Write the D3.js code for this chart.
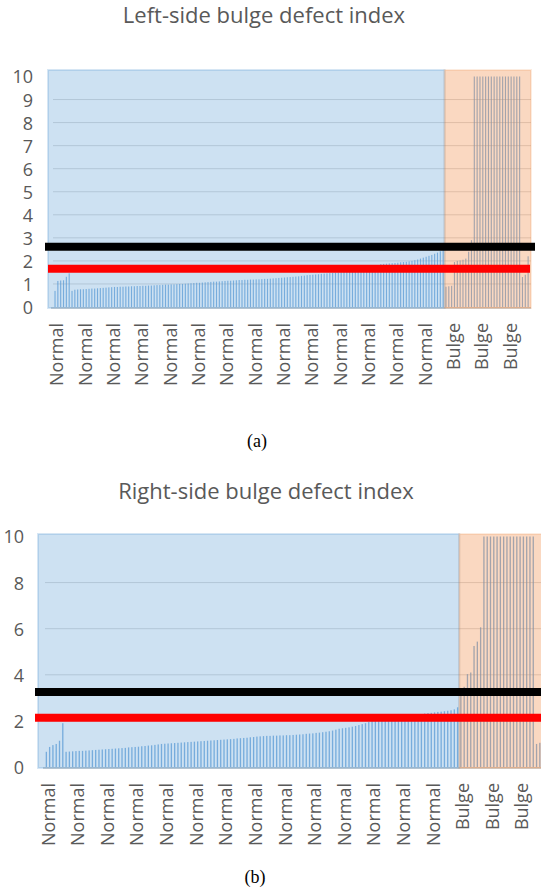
<!DOCTYPE html>
<html>
<head>
<meta charset="utf-8">
<script src="https://cdn.jsdelivr.net/npm/d3@7"></script>
<style>
  body { margin: 0; background: #fff; }
  svg { display: block; }
</style>
</head>
<body>
<div id="chart"></div>
<script>
// Values
var topTitle = "Left-side bulge defect index";
var bottomTitle = "Right-side bulge defect index";
var categoryNames = ["Normal", "Bulge"];

var topNormal = [
  0.70, 1.13, 1.15, 1.16, 1.31, 1.46, 0.70, 0.75,
  0.76, 0.77, 0.77, 0.78, 0.79, 0.80, 0.80, 0.81, 0.82, 0.83, 0.84, 0.85,
  0.86, 0.87, 0.87, 0.88, 0.88, 0.89, 0.89, 0.90, 0.90, 0.91,
  0.91, 0.92, 0.92, 0.93, 0.93, 0.94, 0.95, 0.95, 0.96, 0.97,
  0.97, 0.98, 0.98, 0.99, 1.00, 1.00, 1.01, 1.02, 1.03, 1.04,
  1.05, 1.05, 1.06, 1.07, 1.08, 1.09, 1.10, 1.10, 1.11, 1.12,
  1.13, 1.14, 1.14, 1.15, 1.16, 1.17, 1.17, 1.18, 1.18, 1.19,
  1.19, 1.20, 1.20, 1.21, 1.22, 1.22, 1.23, 1.24, 1.25, 1.26,
  1.27, 1.28, 1.29, 1.30, 1.31, 1.32, 1.33, 1.35, 1.36, 1.38,
  1.39, 1.40, 1.41, 1.42, 1.44, 1.45, 1.46, 1.47, 1.48, 1.49,
  1.50, 1.51, 1.53, 1.55, 1.57, 1.59, 1.61, 1.63, 1.65, 1.67,
  1.69, 1.71, 1.74, 1.78, 1.82, 1.86, 1.87, 1.88, 1.89, 1.90,
  1.91, 1.92, 1.94, 1.95, 1.96, 1.98, 2.00, 2.03, 2.06, 2.10,
  2.14, 2.18, 2.22, 2.26, 2.31, 2.36, 2.42, 2.47
];
var topBulge = [
  0.88, 0.90, 0.92, 1.95, 2.00, 2.02, 2.05, 2.10, 2.40, 2.90,
  10, 10, 10, 10, 10, 10, 10, 10, 10, 10, 10, 10, 10, 10, 10, 10, 10,
  1.30, 1.40, 2.20
];
var topBlackLine = 2.61;
var topRedLine = 1.66;
var topYTicks = [0, 1, 2, 3, 4, 5, 6, 7, 8, 9, 10];

var bottomNormal = [
  0.66, 0.87, 0.95, 1.00, 1.14, 1.90, 0.66,
  0.67, 0.68, 0.69, 0.70, 0.70, 0.71, 0.72, 0.73, 0.74,
  0.75, 0.76, 0.77, 0.78, 0.79, 0.80, 0.81, 0.82, 0.83, 0.85,
  0.86, 0.87, 0.88, 0.90, 0.91, 0.93, 0.94, 0.96, 0.98, 1.00,
  1.01, 1.02, 1.03, 1.04, 1.05, 1.06, 1.07, 1.08, 1.09, 1.10,
  1.11, 1.12, 1.13, 1.14, 1.15, 1.16, 1.17, 1.18, 1.19, 1.20,
  1.21, 1.22, 1.24, 1.25, 1.26, 1.27, 1.29, 1.30, 1.32, 1.33,
  1.34, 1.35, 1.35, 1.36, 1.36, 1.37, 1.37, 1.38, 1.38, 1.39,
  1.40, 1.41, 1.42, 1.44, 1.45, 1.46, 1.48, 1.49, 1.51, 1.53,
  1.55, 1.58, 1.62, 1.66, 1.68, 1.70, 1.72, 1.75, 1.78, 1.82,
  1.86, 1.90, 1.95, 2.00, 2.02, 2.04, 2.06, 2.08, 2.10, 2.12,
  2.14, 2.16, 2.18, 2.20, 2.22, 2.24, 2.26, 2.28, 2.30, 2.32,
  2.34, 2.35, 2.37, 2.39, 2.40, 2.42, 2.44, 2.46, 2.50, 2.59
];
var bottomBulge = [
  3.10, 3.48, 4.03, 4.10, 5.25, 5.44, 6.06,
  10, 10, 10, 10, 10, 10, 10, 10, 10, 10, 10, 10, 10, 10, 10, 10,
  1.00, 1.05
];
var bottomBlackLine = 3.25;
var bottomRedLine = 2.14;
var bottomYTicks = [0, 2, 4, 6, 8, 10];

var W = 541, H = 892;
var textColor = "#595959";
var blue = "#5b9bd5", orange = "#ed7d31";

var svg = d3.select("#chart").append("svg")
    .attr("width", W)
    .attr("height", H);

function drawChart(cfg) {
    var g = svg.append("g");
    var values = cfg.normal.concat(cfg.bulge);
    var cats = values.map(function(d, i) { return i < cfg.normal.length ? categoryNames[0] : categoryNames[1]; });

    var x = d3.scaleBand()
        .domain(d3.range(values.length))
        .range([cfg.x0, cfg.x0 + values.length * cfg.band])
        .padding(0);

    var y = d3.scaleLinear()
        .domain([0, 10])
        .range([cfg.y0, cfg.y10]);

    // gridlines
    g.selectAll(".grid")
        .data(cfg.yTicks.filter(function(d) { return d > 0 && d < 10; }))
        .enter().append("line")
        .attr("x1", cfg.gridLeft)
        .attr("x2", cfg.gridRight)
        .attr("y1", function(d) { return y(d); })
        .attr("y2", function(d) { return y(d); })
        .attr("stroke", "#d9d9d9")
        .attr("stroke-width", 1);

    // axis line
    g.append("line")
        .attr("x1", cfg.gridLeft - 2)
        .attr("x2", cfg.gridRight)
        .attr("y1", y(0) + 1)
        .attr("y2", y(0) + 1)
        .attr("stroke", "#d0d0d0")
        .attr("stroke-width", 2);

    // bars
    g.selectAll(".bar")
        .data(values)
        .enter().append("rect")
        .attr("x", function(d, i) { return x(i) + x.bandwidth() * 0.3; })
        .attr("width", x.bandwidth() * 0.4)
        .attr("y", function(d) { return y(d); })
        .attr("height", function(d) { return y(0) - y(d); })
        .attr("fill", blue)
        .attr("opacity", 0.75);

    // shaded regions
    var split = x(cfg.normal.length);
    g.append("rect")
        .attr("x", cfg.boxLeft)
        .attr("y", cfg.boxTop)
        .attr("width", split - cfg.boxLeft)
        .attr("height", y(0) + 1 - cfg.boxTop)
        .attr("fill", blue)
        .attr("fill-opacity", 0.3)
        .attr("stroke", blue)
        .attr("stroke-opacity", 0.25)
        .attr("stroke-width", 2);
    g.append("rect")
        .attr("x", split)
        .attr("y", cfg.boxTop)
        .attr("width", cfg.boxRight - split)
        .attr("height", y(0) + 1 - cfg.boxTop)
        .attr("fill", orange)
        .attr("fill-opacity", 0.3)
        .attr("stroke", orange)
        .attr("stroke-opacity", 0.15)
        .attr("stroke-width", 2);

    // threshold lines
    g.append("line")
        .attr("x1", cfg.blackX[0]).attr("x2", cfg.blackX[1])
        .attr("y1", y(cfg.black)).attr("y2", y(cfg.black))
        .attr("stroke", "#000").attr("stroke-width", 8);
    g.append("line")
        .attr("x1", cfg.redX[0]).attr("x2", cfg.redX[1])
        .attr("y1", y(cfg.red)).attr("y2", y(cfg.red))
        .attr("stroke", "#ff0000").attr("stroke-width", 8);

    // y axis
    var yAxis = g.append("g")
        .attr("transform", "translate(" + cfg.yLabelX + ",0)")
        .call(d3.axisLeft(y).tickValues(cfg.yTicks).tickSize(0).tickPadding(0));
    yAxis.select(".domain").remove();
    yAxis.selectAll("text")
        .attr("dy", "0.36em")
        .style("font-family", "'Open Sans', sans-serif")
        .style("font-size", "18px")
        .attr("fill", textColor);

    // x axis labels
    var labelIdx = d3.range(0, values.length, cfg.every);
    var xAxis = g.append("g")
        .attr("transform", "translate(0," + cfg.labelTop + ")")
        .call(d3.axisBottom(x).tickValues(labelIdx).tickSize(0)
            .tickFormat(function(i) { return cats[i]; }));
    xAxis.select(".domain").remove();
    xAxis.selectAll("text")
        .attr("x", 0)
        .attr("y", 0)
        .attr("dy", "0.35em")
        .attr("transform", "translate(2,0) rotate(-90)")
        .style("text-anchor", "end")
        .style("font-family", "'Open Sans', sans-serif")
        .style("font-size", "18px")
        .attr("fill", textColor);

    // title
    g.append("text")
        .attr("x", cfg.titleX)
        .attr("y", cfg.titleY)
        .attr("text-anchor", "middle")
        .style("font-family", "'Open Sans', sans-serif")
        .style("font-size", "22px")
        .attr("fill", textColor)
        .text(cfg.title);

    // caption
    g.append("text")
        .attr("x", cfg.capX)
        .attr("y", cfg.capY)
        .attr("text-anchor", "middle")
        .style("font-family", "'Liberation Serif', 'Times New Roman', serif")
        .style("font-size", "18px")
        .attr("fill", "#000")
        .text(cfg.caption);
}

drawChart({
    title: topTitle, caption: "(a)",
    normal: topNormal, bulge: topBulge,
    black: topBlackLine, red: topRedLine, yTicks: topYTicks,
    x0: 53.6, band: 2.833, y0: 307, y10: 76.5,
    gridLeft: 53, gridRight: 531,
    boxLeft: 48, boxTop: 70, boxRight: 531,
    blackX: [45, 535], redX: [48, 530],
    yLabelX: 33, labelTop: 323, every: 10,
    titleX: 264, titleY: 23, capX: 257, capY: 447
});

drawChart({
    title: bottomTitle, caption: "(b)",
    normal: bottomNormal, bulge: bottomBulge,
    black: bottomBlackLine, red: bottomRedLine, yTicks: bottomYTicks,
    x0: 44.7, band: 3.29, y0: 767, y10: 536.5,
    gridLeft: 45, gridRight: 545,
    boxLeft: 38, boxTop: 534, boxRight: 548,
    blackX: [35, 545], redX: [35, 545],
    yLabelX: 24, labelTop: 783, every: 9,
    titleX: 266, titleY: 499, capX: 255, capY: 883
});
</script>
</body>
</html>
